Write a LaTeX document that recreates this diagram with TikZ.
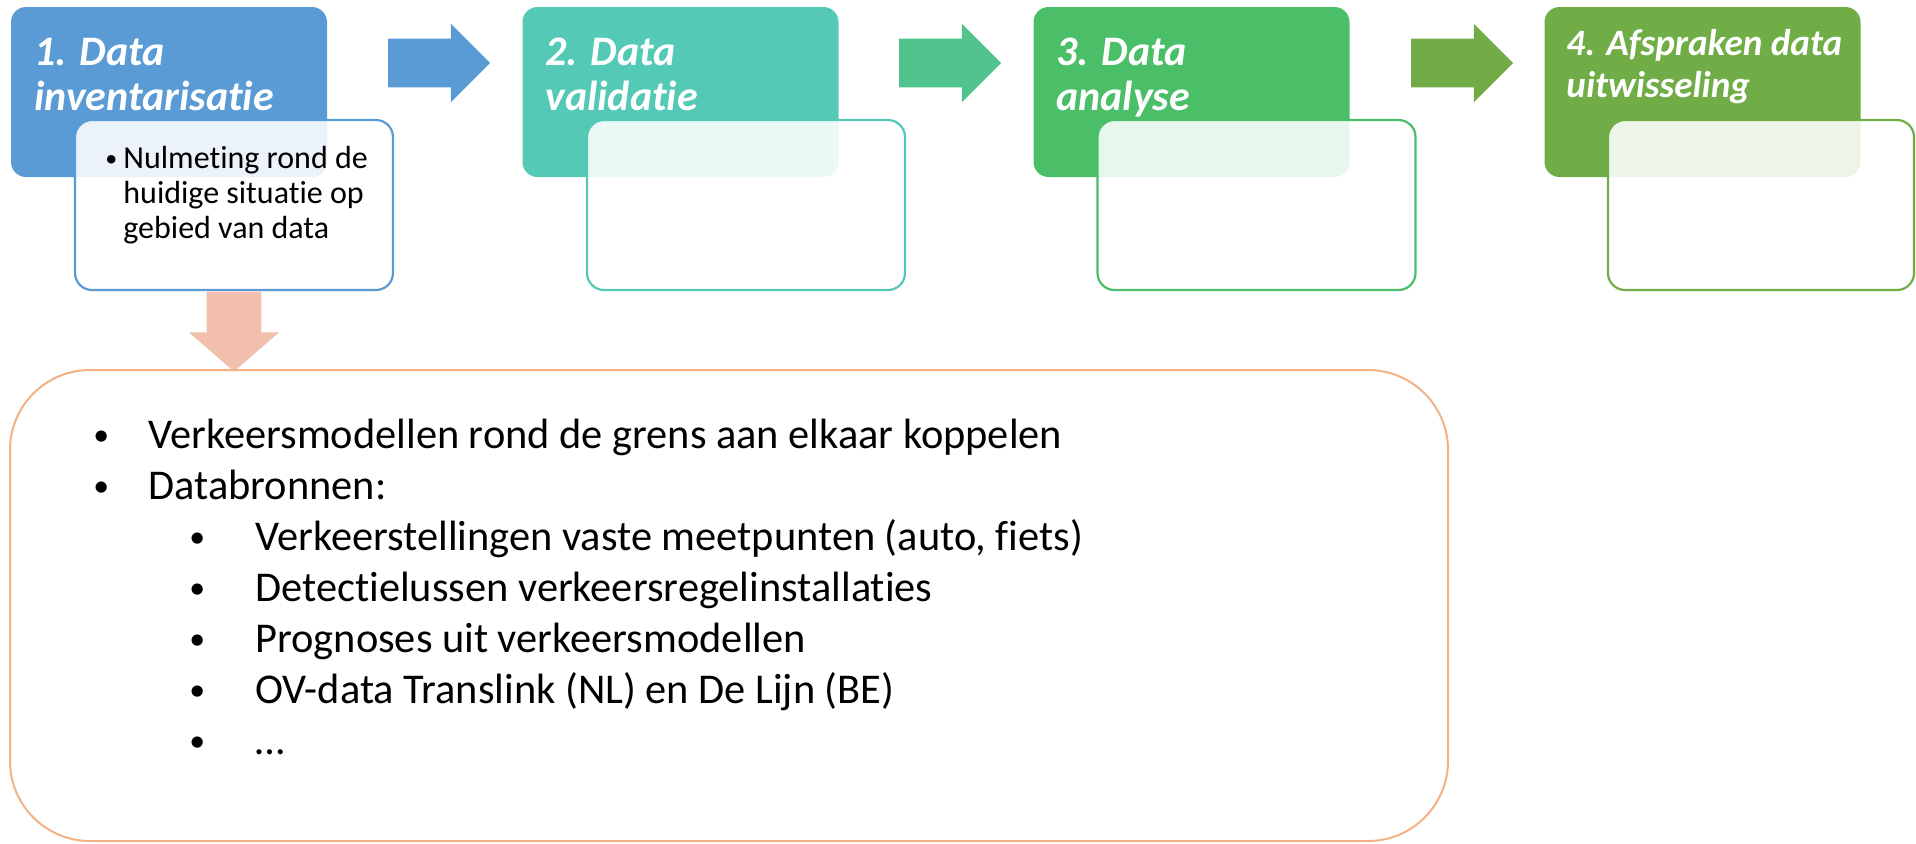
\documentclass[tikz,border=0pt]{standalone}
\usepackage{fontspec}
\setmainfont{Carlito}[Ligatures={NoCommon,NoContextual}]
\usetikzlibrary{shapes.arrows,positioning}
\definecolor{stepblue}{RGB}{91,155,213}
\definecolor{stepteal}{RGB}{84,202,182}
\definecolor{stepgreen}{RGB}{74,191,104}
\definecolor{stepolive}{RGB}{112,173,71}
\definecolor{arrowmint}{RGB}{80,196,140}
\definecolor{arrowolive}{RGB}{113,172,71}
\definecolor{downsalmon}{RGB}{243,191,173}
\definecolor{boxorange}{RGB}{244,177,131}
\newcommand{\listbullet}{\raisebox{0.12ex}{\scalebox{0.75}{•}}}

\tikzset{
    stepbox/.style={rounded corners=7.5pt, minimum width=158pt, minimum height=85pt, inner sep=0pt},
    subbox/.style={draw=#1, line width=1.1pt, fill=white, fill opacity=0.88, rounded corners=8.5pt,
        minimum width=159pt, minimum height=85pt, inner sep=0pt},
    steptitle/.style={text=white, font=\fontsize{21pt}{22.5pt}\selectfont\bfseries\itshape,
        align=left, inner sep=0pt, anchor=base west},
    subtext/.style={font=\fontsize{16pt}{17.5pt}\selectfont, align=left, inner sep=0pt, anchor=base west},
    blockarrow/.style={single arrow, fill=#1, minimum height=51pt, minimum width=39pt,
        single arrow head extend=7.5pt, single arrow head indent=0pt, inner xsep=0pt, inner ysep=12pt}
}

\begin{document}
\begin{tikzpicture}[x=0.5pt, y=-0.5pt]
    \useasboundingbox (0,0) rectangle (1916,843);
    % Steps
    \node[stepbox, fill=stepblue] (s1) at (169,92) {};
    \node[stepbox, fill=stepteal] (s2) at (680.5,92) {};
    \node[stepbox, fill=stepgreen] (s3) at (1191.5,92) {};
    \node[stepbox, fill=stepolive] (s4) at (1702.5,92) {};
    \node[steptitle] (t1) at (34,110) {1. Data\\inventarisatie};
    \node[steptitle] (t2) at (545,110) {2. Data\\validatie};
    \node[steptitle] (t3) at (1056,110) {3. Data\\analyse};
    \node[steptitle, font=\fontsize{18.6pt}{21pt}\selectfont\bfseries\itshape] (t4) at (1566,97)
        {4. Afspraken data\\uitwisseling};
    % Arrows between the steps
    \node[blockarrow=stepblue] (a1) at (427,63) {};
    \node[blockarrow=arrowmint] (a2) at (938,63) {};
    \node[blockarrow=arrowolive] (a3) at (1450,63) {};
    % Detail boxes
    \node[subbox=stepblue] (d1) at (234,205) {};
    \node[subbox=stepteal] (d2) at (746,205) {};
    \node[subbox=stepgreen] (d3) at (1256.5,205) {};
    \node[subbox=stepolive, minimum width=153pt] (d4) at (1761,205) {};
    \node[subtext] (n1) at (105,238) {\makebox[9pt][l]{\listbullet}Nulmeting rond de\\
        \hspace*{9pt}huidige situatie op\\
        \hspace*{9pt}gebied van data};
    % Down arrow and big box
    \node[single arrow, fill=downsalmon, rotate=-90, minimum height=40pt,
        minimum width=44.5pt, single arrow head extend=8.75pt, single arrow head indent=0pt,
        single arrow tip angle=98, inner xsep=0pt, inner ysep=13.5pt, anchor=tail] (down) at (d1.south) {};
    \node[draw=boxorange, line width=1pt, rounded corners=40pt, minimum width=719pt,
        minimum height=235.5pt, inner sep=0pt] (main) at (729,605.5) {};
    \node[font=\fontsize{21.2pt}{25.5pt}\selectfont, align=left, inner sep=0pt, anchor=base west]
        (list) at (93,754) {%
        \makebox[27.5pt][l]{\listbullet}Verkeersmodellen rond de grens aan elkaar koppelen\\
        \makebox[27.5pt][l]{\listbullet}Databronnen:\\
        \hspace*{48pt}\makebox[33pt][l]{\listbullet}Verkeerstellingen vaste meetpunten (auto, fiets)\\
        \hspace*{48pt}\makebox[33pt][l]{\listbullet}Detectielussen verkeersregelinstallaties\\
        \hspace*{48pt}\makebox[33pt][l]{\listbullet}Prognoses uit verkeersmodellen\\
        \hspace*{48pt}\makebox[33pt][l]{\listbullet}OV-data Translink (NL) en De Lijn (BE)\\
        \hspace*{48pt}\makebox[33pt][l]{\listbullet}…};
\end{tikzpicture}
\end{document}
